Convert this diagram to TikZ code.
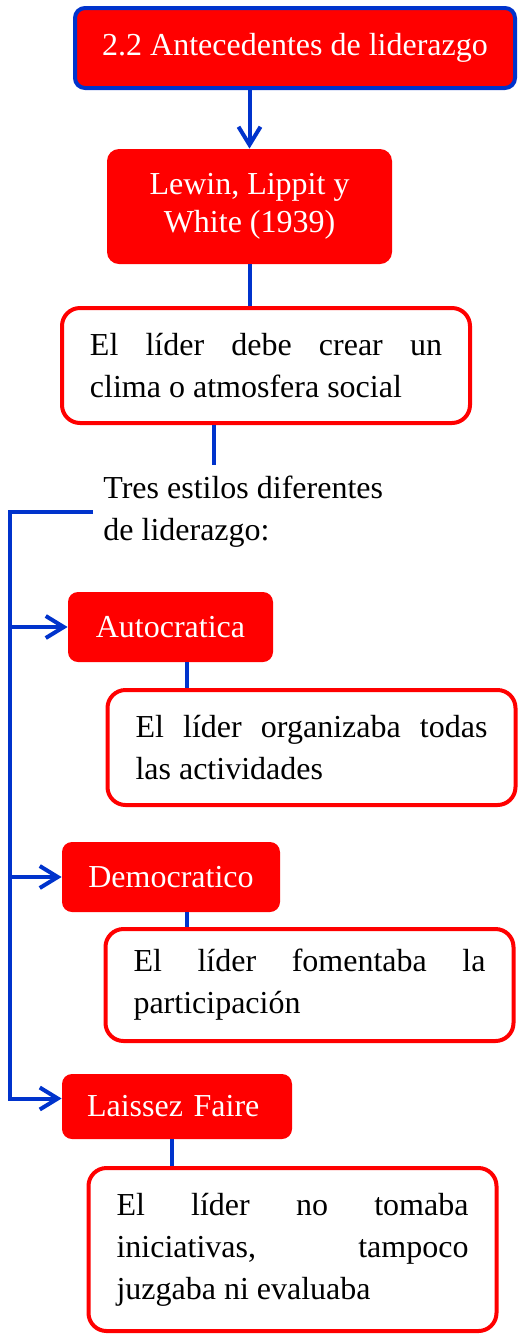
\documentclass[tikz,border=0pt]{standalone}
\usepackage{fontspec}
\setmainfont{Liberation Serif}
\usetikzlibrary{arrows.meta,positioning}
\definecolor{azul}{RGB}{0,51,204}
\definecolor{rojo}{RGB}{255,0,0}

\tikzset{
    cabeza/.style={fill=rojo, text=white, rounded corners=5pt, align=center, inner sep=0pt, font=\fontsize{16}{19}\selectfont},
    cuadro/.style={draw=rojo, line width=2pt, fill=white, rounded corners=9pt, text width=176pt, inner xsep=14pt, align=justify, font=\fontsize{16}{21}\selectfont},
    linea/.style={draw=azul, line width=2pt},
    flecha/.style={linea, -{Straight Barb[length=9pt,width=11pt]}},
}

\begin{document}
\begin{tikzpicture}[x=0.5pt, y=-0.5pt]
        \useasboundingbox (0, 0) rectangle (519, 1340);

        \node[cabeza, draw=azul, line width=2pt, minimum width=220pt, minimum height=40pt] (titulo) at (295, 48) {2.2 Antecedentes de liderazgo};
        \node[cabeza, rounded corners=6pt, minimum width=142.5pt, minimum height=57.5pt] (lewin) at (249.5, 206.5) {Lewin, Lippit y\\White (1939)};
        \node[cuadro, minimum height=57.5pt] (clima) at (266, 365.5) {El líder debe crear un\linebreak clima o atmosfera social};
        \node[anchor=north west, inner sep=0pt, align=left, font=\fontsize{16}{21}\selectfont] (tres) at (103, 476) {Tres estilos diferentes\\de liderazgo:};

        \node[cabeza, minimum width=102.5pt, minimum height=35pt] (auto) at (170.5, 627) {Autocratica};
        \node[cuadro, minimum height=57.5pt] (autodet) at (311.5, 747.5) {El líder organizaba todas\linebreak las actividades};
        \node[cabeza, minimum width=109pt, minimum height=35pt] (demo) at (171, 877) {Democratico};
        \node[cuadro, minimum height=56pt] (demodet) at (309.5, 985) {El líder fomentaba la\linebreak participación};
        \node[cabeza, text width=90pt, inner xsep=12.5pt, align=left, minimum height=32.5pt] (laissez) at (177, 1106.5) {Laissez Faire};
        \node[cuadro, minimum height=81.5pt] (laissezdet) at (292.5, 1249.5) {El líder no tomaba\linebreak iniciativas, tampoco\linebreak juzgaba ni evaluaba};

        \coordinate (c1) at (214, 465);
        \coordinate (esq) at (10, 510);

        \draw[flecha] (titulo.south -| lewin.north) -- (lewin.north);
        \draw[linea] (lewin.south) -- (lewin.south |- clima.north);
        \draw[linea] (clima.south -| c1) -- (c1);
        \draw[flecha] ([xshift=-5pt]tres.west) -- (esq |- tres.west) |- ([yshift=4pt]laissez.west);
        \draw[flecha] (esq |- auto.west) -- (auto.west);
        \draw[flecha] (esq |- demo.west) -- (demo.west);
        \draw[linea] ([xshift=8pt]auto.south) -- ([xshift=8pt]auto.south |- autodet.north);
        \draw[linea] ([xshift=8pt]demo.south) -- ([xshift=8pt]demo.south |- demodet.north);
        \draw[linea] ([xshift=-2.5pt]laissez.south) -- ([xshift=-2.5pt]laissez.south |- laissezdet.north);
\end{tikzpicture}
\end{document}
